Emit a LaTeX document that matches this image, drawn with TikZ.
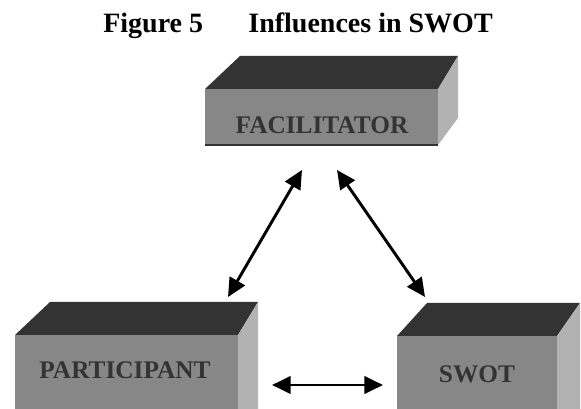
\documentclass[tikz,border=0pt]{standalone}
\usepackage{fontspec}
\setmainfont{Liberation Serif}
\usetikzlibrary{arrows.meta}

\begin{document}
\begin{tikzpicture}[x=0.75pt, y=-0.75pt,
  frontface/.style={fill=black!47},
  topface/.style={fill=black!80},
  sideface/.style={fill=black!30},
  boxlabel/.style={font=\bfseries\fontsize{19}{21}\selectfont, text=black!80},
  influence/.style={line width=2.2pt,
    {Triangle[length=14pt,width=13pt]}-{Triangle[length=14pt,width=13pt]}}]
\useasboundingbox (0,0) rectangle (581,409);

\node[font=\bfseries\fontsize{21}{24}\selectfont, anchor=base] (title) at (298,33) {Figure 5\hspace{34pt}Influences in SWOT};

\fill[topface] (205,89) -- (240,56) -- (458,56) -- (438,89) -- cycle;
\fill[sideface] (438,89) -- (458,56) -- (458,118) -- (438,145) -- cycle;
\fill[frontface] (205,89) rectangle (438,145);
\draw[line width=1pt, black!80] (205,145) -- (438,145);
\node[boxlabel] (fac) at (322,125) {FACILITATOR};

\fill[topface] (15,335) -- (50,302) -- (258,302) -- (238,335) -- cycle;
\fill[sideface] (238,335) -- (258,302) -- (258,409) -- (238,409) -- cycle;
\fill[frontface] (15,335) rectangle (238,409);
\node[boxlabel] (part) at (125,370) {PARTICIPANT};

\fill[topface] (397,336) -- (427,303) -- (580,303) -- (557,336) -- cycle;
\fill[sideface] (557,336) -- (580,303) -- (580,409) -- (557,409) -- cycle;
\fill[frontface] (397,336) rectangle (557,409);
\node[boxlabel] (swot) at (477,374) {SWOT};

\coordinate (facL) at (302,170);
\coordinate (facR) at (337,170);
\coordinate (partT) at (228,297);
\coordinate (partR) at (272,385);
\coordinate (swotT) at (425,297);
\coordinate (swotL) at (383,385);

\draw[influence] (facL) -- (partT);
\draw[influence] (facR) -- (swotT);
\draw[influence] (partR) -- (swotL);

\end{tikzpicture}
\end{document}
